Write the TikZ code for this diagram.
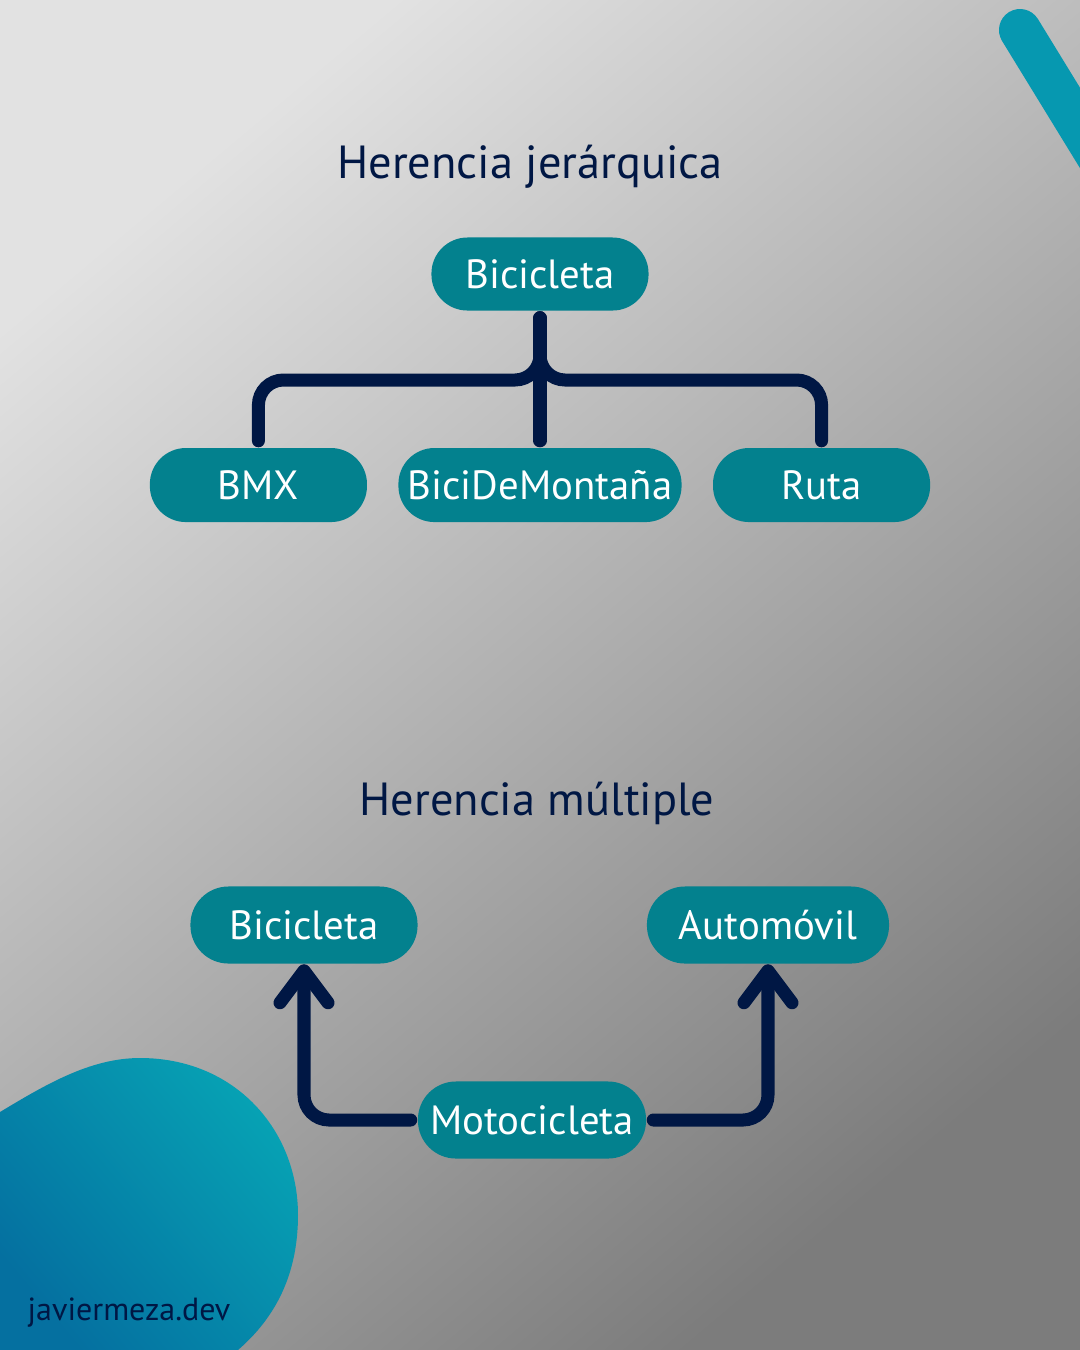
\documentclass[tikz,border=0pt]{standalone}
\usepackage{fontspec}
\setmainfont{PT Sans}
\usetikzlibrary{arrows.meta, calc, positioning}
\definecolor{nodeteal}{HTML}{03818E}
\definecolor{navy}{HTML}{001744}
\definecolor{bglight}{HTML}{E2E2E2}
\definecolor{bgdark}{HTML}{7C7C7C}
\definecolor{decoteal}{HTML}{06A2B4}
\definecolor{decoblue}{HTML}{0570A0}
\tikzstyle{classbox} = [rectangle, fill=nodeteal, rounded corners=3.6mm, minimum height=7.4mm, inner sep=0pt, text=white, font=\fontsize{11.6}{14}\selectfont]
\tikzstyle{title} = [anchor=base, text=navy, font=\fontsize{13.2}{16}\selectfont]
\tikzstyle{link} = [draw=navy, line width=1.3mm, line cap=round, rounded corners=2.5mm, shorten <=0.65mm, shorten >=0.65mm]
\tikzstyle{inherit} = [link, shorten >=0mm, -{Straight Barb[round, length=3.2mm, width=4.8mm]}]
\begin{document}
\begin{tikzpicture}[x=0.01cm, y=-0.01cm, node distance = 3mm]
		% background and decorations
		\useasboundingbox (0,0) rectangle (1080,1350);
		\shade[top color=bglight, bottom color=bgdark, shading angle=40] (0,0) rectangle (1080,1350);
		\begin{scope}
			\clip (0,0) rectangle (1080,1350);
			\draw[line width=4.2mm, line cap=round, draw=decoteal!80!decoblue] (1020,30) -- (1115,185);
			\shade[top color=decoteal, bottom color=decoblue, shading angle=-50] (0,1112) .. controls (45,1085) and (90,1058) .. (140,1058) .. controls (235,1058) and (298,1130) .. (298,1215) .. controls (298,1275) and (275,1318) .. (238,1350) -- (0,1350) -- cycle;
		\end{scope}
		\node (Footer) [anchor=base west, inner sep=0pt, text=navy, font=\fontsize{9.1}{10}\selectfont] at (27,1320) {javiermeza.dev};

		% hierarchical inheritance
		\node (TitleHier) [title] at (530,178) {Herencia jerárquica};
		\node (Bicicleta) [classbox, minimum width=2.17cm, minimum height=7.3mm] at (540,274) {Bicicleta};
		\node (BiciDeMontana) [classbox, minimum width=2.83cm, below = 1.36cm of Bicicleta] {BiciDeMontaña};
		\node (BMX) [classbox, minimum width=2.17cm, left = of BiciDeMontana] {BMX};
		\node (Ruta) [classbox, minimum width=2.17cm, right = of BiciDeMontana] {Ruta};
		\coordinate (Split) at (540,380);

		\draw [link] (Bicicleta.south) -- (BiciDeMontana.north);
		\draw [link] (Bicicleta.south) |- (Split -| BMX.north) -- (BMX.north);
		\draw [link] (Bicicleta.south) |- (Split -| Ruta.north) -- (Ruta.north);

		% multiple inheritance
		\node (TitleMult) [title] at (537,815) {Herencia múltiple};
		\node (BicicletaBase) [classbox, minimum width=2.27cm, minimum height=7.7mm, rounded corners=3.8mm] at (304,925) {Bicicleta};
		\node (Automovil) [classbox, minimum width=2.42cm, minimum height=7.7mm, rounded corners=3.8mm] at (768,925) {Automóvil};
		\node (Motocicleta) [classbox, minimum width=2.28cm, minimum height=7.7mm, rounded corners=3.8mm] at (532,1120) {Motocicleta};

		\draw [inherit] (Motocicleta.west) -| (BicicletaBase.south);
		\draw [inherit] (Motocicleta.east) -| (Automovil.south);
	\end{tikzpicture}
\end{document}
